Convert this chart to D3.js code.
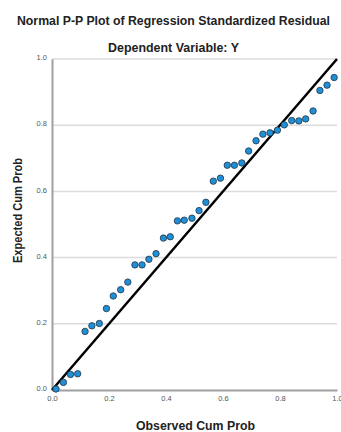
<!DOCTYPE html>
<html><head><meta charset="utf-8">
<script src="https://cdn.jsdelivr.net/npm/d3@7"></script>
<style>body{margin:0;background:#fff;}svg{display:block;}</style>
</head><body>
<svg id="c" width="341" height="432"></svg>
<script>
const observed = [0.014,0.040,0.065,0.090,0.116,0.140,0.166,0.191,0.215,0.241,0.266,0.291,0.316,0.340,0.365,0.391,0.415,0.440,0.464,0.491,0.516,0.540,0.566,0.591,0.615,0.640,0.666,0.690,0.716,0.740,0.765,0.791,0.815,0.841,0.866,0.890,0.916,0.940,0.965,0.990];
const expected = [0.003,0.023,0.047,0.049,0.177,0.194,0.201,0.246,0.284,0.303,0.326,0.378,0.378,0.395,0.412,0.459,0.463,0.511,0.513,0.519,0.542,0.567,0.631,0.640,0.679,0.679,0.686,0.722,0.753,0.773,0.777,0.785,0.801,0.814,0.813,0.819,0.843,0.905,0.921,0.944];
const tickValues = [0.0,0.2,0.4,0.6,0.8,1.0];
const refLine = [0,1];
const title = "Normal P-P Plot of Regression Standardized Residual";
const subtitle = "Dependent Variable: Y";
const xLabel = "Observed Cum Prob";
const yLabel = "Expected Cum Prob";

const svg = d3.select("#c");
const x = d3.scaleLinear().domain([0,1]).range([52,337]);
const y = d3.scaleLinear().domain([0,1]).range([390,59]);
const font = "'Liberation Sans', Arial, sans-serif";

// gridlines
svg.append("g").selectAll("line").data(tickValues.filter(d=>d>0)).join("line")
  .attr("x1", x(0)).attr("x2", x(1))
  .attr("y1", d=>y(d)).attr("y2", d=>y(d))
  .attr("stroke","#dcdcdc").attr("stroke-width",1.5);

// axes
const yAxis = d3.axisLeft(y).tickValues(tickValues).tickFormat(d3.format(".1f")).tickSize(0).tickPadding(5);
const gy = svg.append("g").attr("transform",`translate(${x(0)},0)`).call(yAxis);
const xAxis = d3.axisBottom(x).tickValues(tickValues).tickFormat(d3.format(".1f")).tickSize(0).tickPadding(6);
const gx = svg.append("g").attr("transform",`translate(0,${y(0)})`).call(xAxis);
[gx,gy].forEach(g=>{
  g.select(".domain").attr("stroke","#a0a0a0").attr("stroke-width",2);
  g.selectAll("text").attr("font-family",font).attr("font-size","7.5px").attr("fill","#555");
});
gy.selectAll("text").attr("dy","0.1em");

// reference line
svg.append("line")
  .attr("x1", x(refLine[0])).attr("y1", y(refLine[0]))
  .attr("x2", x(refLine[1])).attr("y2", y(refLine[1]))
  .attr("stroke","#000").attr("stroke-width",2.5);

// points
svg.append("g").selectAll("circle").data(observed.map((o,i)=>[o,expected[i]])).join("circle")
  .attr("cx", d=>x(d[0])).attr("cy", d=>y(d[1])).attr("r",3.2)
  .attr("fill","#1e90d8").attr("stroke","#2a3f55").attr("stroke-width",0.9);

// titles
svg.append("text").attr("x",173.5).attr("y",25).attr("text-anchor","middle")
  .attr("font-family",font).attr("font-weight","bold").attr("font-size","12.5px").attr("fill","#222")
  .attr("textLength",313).attr("lengthAdjust","spacingAndGlyphs").text(title);
svg.append("text").attr("x",173.5).attr("y",51.5).attr("text-anchor","middle")
  .attr("font-family",font).attr("font-weight","bold").attr("font-size","12.5px").attr("fill","#222")
  .attr("textLength",131).attr("lengthAdjust","spacingAndGlyphs").text(subtitle);
svg.append("text").attr("x",195.5).attr("y",429.5).attr("text-anchor","middle")
  .attr("font-family",font).attr("font-weight","bold").attr("font-size","12.5px").attr("fill","#222")
  .attr("textLength",119).attr("lengthAdjust","spacingAndGlyphs").text(xLabel);
svg.append("text").attr("transform","translate(22,210.5) rotate(-90)").attr("text-anchor","middle")
  .attr("font-family",font).attr("font-weight","bold").attr("font-size","13px").attr("fill","#222")
  .attr("textLength",105).attr("lengthAdjust","spacingAndGlyphs").text(yLabel);
</script>
</body></html>
